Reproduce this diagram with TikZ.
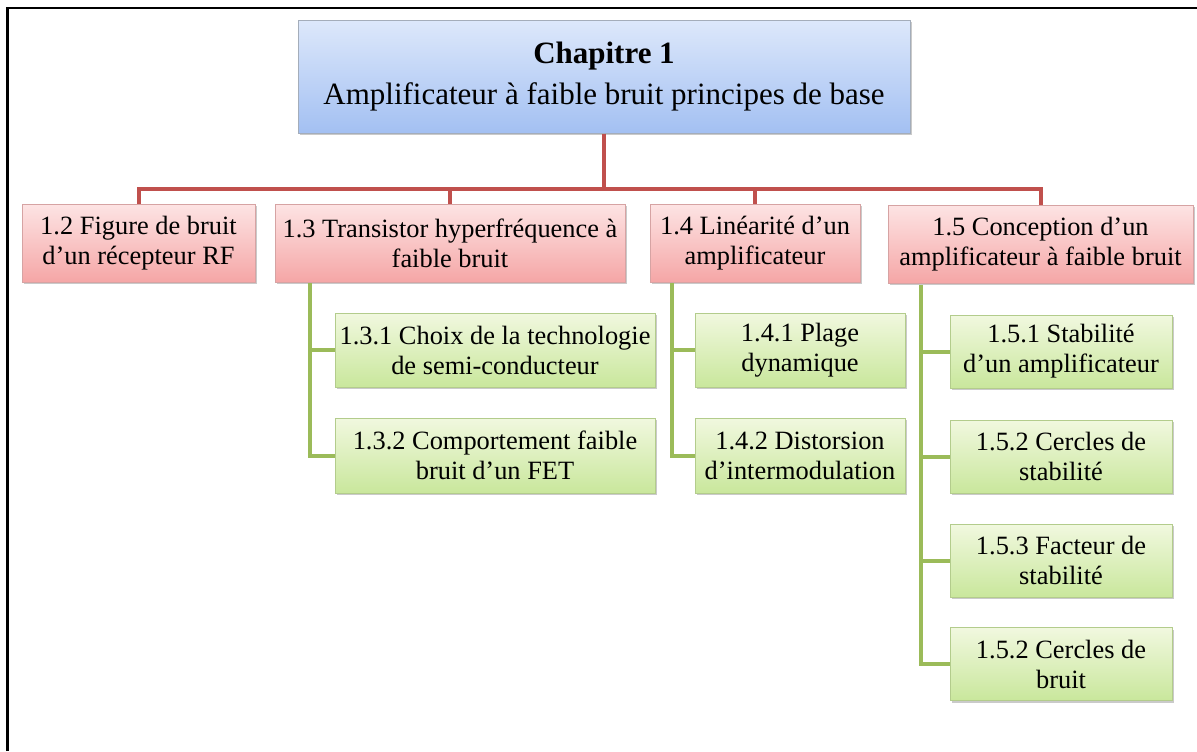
\documentclass[tikz,border=0pt]{standalone}
\usepackage{fontspec}
\setmainfont{Liberation Serif}
\usetikzlibrary{shadows}
\definecolor{rootTop}{HTML}{DDE8FB}
\definecolor{rootBot}{HTML}{A3C0F2}
\definecolor{rootLine}{HTML}{A4ADBA}
\definecolor{secTop}{HTML}{FDE4E4}
\definecolor{secBot}{HTML}{F5A6A6}
\definecolor{secLine}{HTML}{D6A3A3}
\definecolor{subTop}{HTML}{F1F8DF}
\definecolor{subBot}{HTML}{C9E79C}
\definecolor{subLine}{HTML}{B3CC8C}
\definecolor{redLink}{HTML}{C0504D}
\definecolor{greenLink}{HTML}{9BBB59}
\begin{document}
\begin{tikzpicture}[x=0.5pt,y=-0.5pt,
  box/.style={draw, line width=0.5pt, align=center, inner sep=0pt,
    drop shadow={shadow xshift=1pt, shadow yshift=-1.2pt, opacity=0.35, fill=black!60}},
  rootbox/.style={box, draw=rootLine, top color=rootTop, bottom color=rootBot,
    font=\fontsize{15.5}{20.5}\selectfont},
  secbox/.style={box, draw=secLine, top color=secTop, bottom color=secBot,
    font=\fontsize{13.2}{15}\selectfont},
  subbox/.style={box, draw=subLine, top color=subTop, bottom color=subBot,
    font=\fontsize{13.2}{15}\selectfont},
  redlink/.style={draw=redLink, line width=2pt},
  greenlink/.style={draw=greenLink, line width=2pt}]
\useasboundingbox (0,0) rectangle (1197,751);
% frame
\draw[line width=1.3pt] (7.5,751) -- (7.5,8) -- (1197,8);

% root
\node[rootbox, minimum width=306pt, minimum height=56.5pt] (root) at (604,76.5)
  {\textbf{Chapitre 1}\\Amplificateur à faible bruit principes de base};

% sections
\node[secbox, minimum width=116.5pt, minimum height=39pt] (s12) at (138.5,243)
  {1.2 Figure de bruit\\d’un récepteur RF};
\node[secbox, minimum width=175pt, minimum height=39pt] (s13) at (450,243)
  {1.3 Transistor hyperfréquence à\\faible bruit};
\node[secbox, minimum width=105pt, minimum height=39pt] (s14) at (755,243)
  {1.4 Linéarité d’un\\amplificateur};
\node[secbox, minimum width=152.5pt, minimum height=39pt] (s15) at (1040.5,244)
  {1.5 Conception d’un\\amplificateur à faible bruit};

% subsections of 1.3
\node[subbox, minimum width=160pt, minimum height=37pt] (s131) at (495,350)
  {1.3.1 Choix de la technologie\\de semi-conducteur};
\node[subbox, minimum width=160pt, minimum height=37.5pt] (s132) at (495,455.5)
  {1.3.2 Comportement faible\\bruit d’un FET};
% subsections of 1.4
\node[subbox, minimum width=105pt, minimum height=37pt] (s141) at (800,350)
  {1.4.1 Plage\\dynamique};
\node[subbox, minimum width=105pt, minimum height=37.5pt] (s142) at (800,455.5)
  {1.4.2 Distorsion\\d’intermodulation};
% subsections of 1.5
\node[subbox, minimum width=111pt, minimum height=36.5pt] (s151) at (1061,351.5)
  {1.5.1 Stabilité\\d’un amplificateur};
\node[subbox, minimum width=111pt, minimum height=36.5pt] (s152) at (1061,456.5)
  {1.5.2 Cercles de\\stabilité};
\node[subbox, minimum width=111pt, minimum height=36.5pt] (s153) at (1061,560.5)
  {1.5.3 Facteur de\\stabilité};
\node[subbox, minimum width=111pt, minimum height=36.5pt] (s154) at (1061,664)
  {1.5.2 Cercles de\\bruit};

% red links from the chapter to its sections
\coordinate (bus) at (604,189);
\draw[redlink] (root.south) -- (bus);
\foreach \s in {s12,s13,s14,s15}
  \draw[redlink] (bus) -| (\s.north);

% green links from sections to subsections
\coordinate (t13) at (310,283);
\coordinate (t14) at (672,283);
\coordinate (t15) at (921,285);
\draw[greenlink] (t13) |- (s131.west);
\draw[greenlink] (t13) |- (s132.west);
\draw[greenlink] (t14) |- (s141.west);
\draw[greenlink] (t14) |- (s142.west);
\foreach \s in {s151,s152,s153,s154}
  \draw[greenlink] (t15) |- (\s.west);
\end{tikzpicture}
\end{document}
